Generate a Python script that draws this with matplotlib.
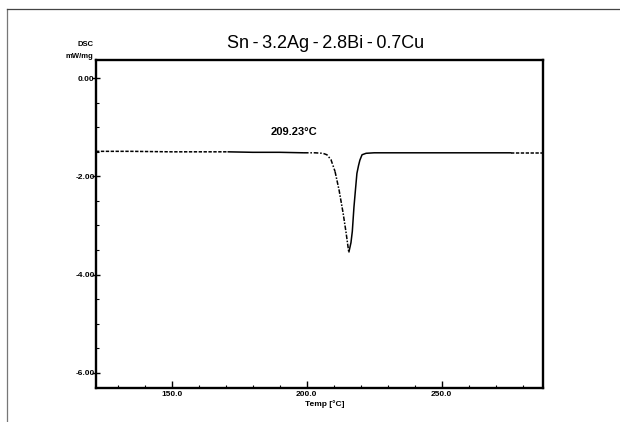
import matplotlib
matplotlib.use("Agg")
import matplotlib.pyplot as plt
from matplotlib.lines import Line2D
from matplotlib.ticker import MultipleLocator, FormatStrFormatter

plt.rcParams["axes.unicode_minus"] = False
plt.rcParams["font.family"] = ["Liberation Sans", "DejaVu Sans"]

# DSC trace (temperature in °C, heat flow in mW/mg)
temp = [122.0, 135.0, 150.0, 165.0, 170.7, 180.0, 190.0, 199.0, 203.0, 206.0,
        207.5, 209.0, 210.5, 212.0, 213.5, 214.6, 215.6, 216.4, 216.9, 217.5,
        218.1, 218.6, 219.2, 219.7, 220.5, 222.0, 225.0, 240.0, 260.0, 275.8, 288.0]
dsc = [-1.49, -1.49, -1.50, -1.50, -1.50, -1.51, -1.51, -1.52, -1.52, -1.53,
       -1.56, -1.66, -1.90, -2.28, -2.75, -3.15, -3.55, -3.35, -3.12, -2.63,
       -2.25, -1.94, -1.78, -1.67, -1.56, -1.53, -1.52, -1.52, -1.52, -1.52, -1.52]

# line styles along the trace: (first index, last index, dash pattern)
segments = [(0, 4, (0, (2.2, 1.0))),
            (4, 7, "-"),
            (7, 12, (0, (3.0, 1.2, 1.0, 1.2))),
            (12, 16, (0, (3.0, 1.0, 1.0, 1.0))),
            (16, 29, "-"),
            (29, 30, (0, (2.2, 1.0)))]

title = "Sn\u2009-\u20093.2Ag\u2009-\u20092.8Bi\u2009-\u20090.7Cu"
onset_label = "209.23°C"
onset_pos = (195.4, -1.10)
x_label = "Temp [°C]"
y_header = ["DSC", "mW/mg"]

xlim = (122.0, 287.5)
ylim = (-6.31, 0.37)

fig = plt.figure(figsize=(6.2, 4.22), dpi=100)
fig.patch.set_facecolor("white")

# outer frame lines
fig.add_artist(Line2D([7 / 620, 7 / 620], [0.0, 1 - 9 / 422],
                      transform=fig.transFigure, color="#777777", lw=0.9))
fig.add_artist(Line2D([7 / 620, 1.0], [1 - 9 / 422, 1 - 9 / 422],
                      transform=fig.transFigure, color="#444444", lw=0.9))

ax = fig.add_axes([96 / 620, 1 - 388 / 422, (543 - 96) / 620, (388 - 60) / 422])

for a, b, ls in segments:
    ax.plot(temp[a:b + 1], dsc[a:b + 1], color="black", lw=1.1, linestyle=ls,
            solid_capstyle="butt")

ax.set_xlim(*xlim)
ax.set_ylim(*ylim)

for s in ax.spines.values():
    s.set_linewidth(1.7)
    s.set_color("black")

ax.xaxis.set_major_locator(MultipleLocator(50))
ax.xaxis.set_minor_locator(MultipleLocator(10))
ax.yaxis.set_major_locator(MultipleLocator(2))
ax.yaxis.set_minor_locator(MultipleLocator(0.5))
ax.xaxis.set_major_formatter(FormatStrFormatter("%.1f"))
ax.yaxis.set_major_formatter(FormatStrFormatter("%.2f"))

ax.tick_params(axis="x", which="major", direction="in", length=5, width=1.0,
               labelsize=6, pad=2)
ax.tick_params(axis="x", which="minor", direction="in", length=2.5, width=0.8)
ax.tick_params(axis="y", which="major", direction="inout", length=6, width=1.0,
               labelsize=6, pad=-2)
ax.tick_params(axis="y", which="minor", direction="in", length=2.5, width=0.8)
for lbl in ax.get_xticklabels() + ax.get_yticklabels():
    lbl.set_fontweight("bold")

ax.text(onset_pos[0], onset_pos[1], onset_label, ha="center", va="center",
        fontsize=8, fontweight="bold")

fig.text(326 / 620, 1 - 44 / 422, title, ha="center", va="center", fontsize=13)
fig.text(85 / 620, 1 - 45 / 422, y_header[0], ha="center", va="center",
         fontsize=5.5, fontweight="bold")
fig.text(79 / 620, 1 - 57 / 422, y_header[1], ha="center", va="center",
         fontsize=5.5, fontweight="bold")
fig.text(325 / 620, 1 - 404 / 422, x_label, ha="center", va="center",
         fontsize=6, fontweight="bold")

fig.savefig("out.png", dpi=100, facecolor="white")
